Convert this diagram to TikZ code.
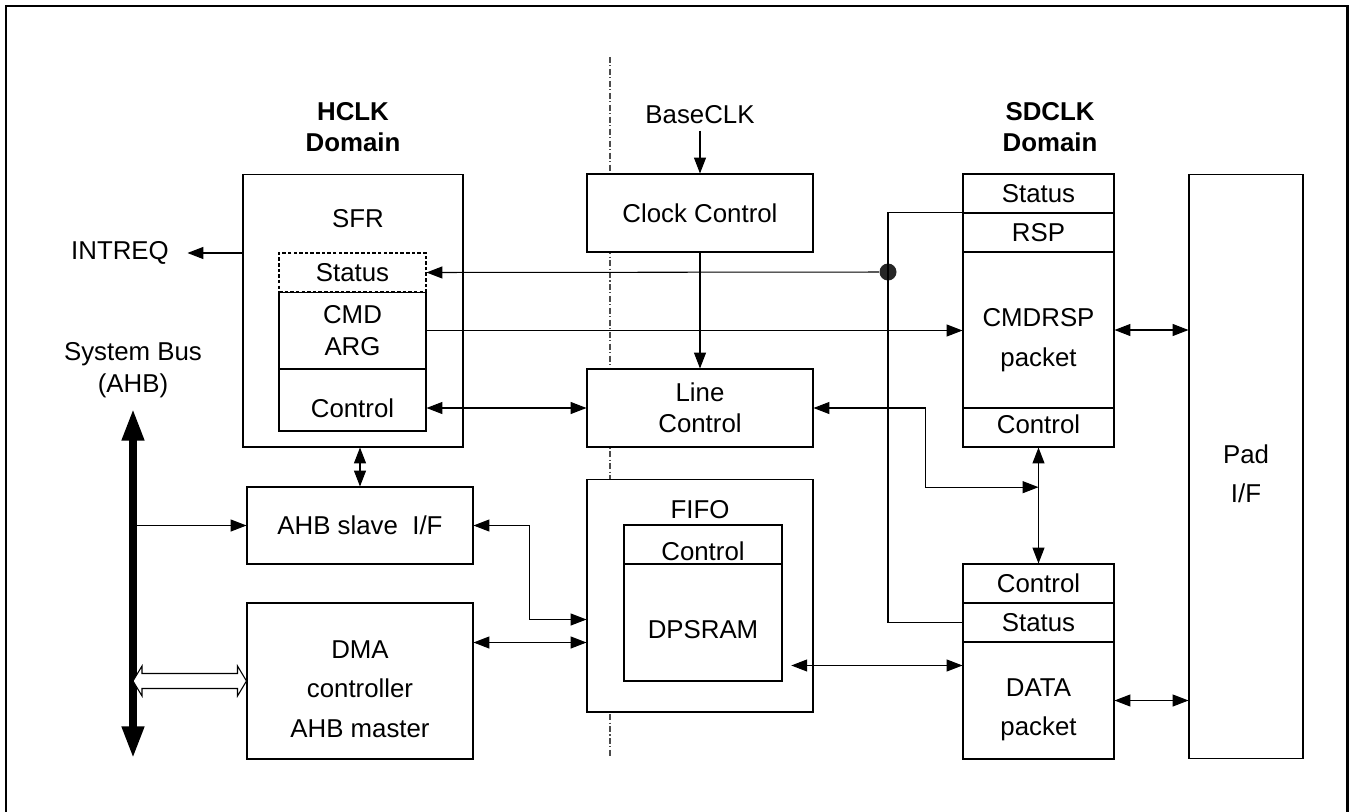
\documentclass[tikz,border=0pt]{standalone}
\usepackage{fontspec}
\setmainfont{Liberation Sans}
\usetikzlibrary{arrows.meta, calc}

\begin{document}
\begin{tikzpicture}[
  x=0.02cm, y=-0.02cm,
  font=\fontsize{14.7}{17.6}\selectfont,
  line width=0.6pt,
  block/.style={draw, fill=white, inner sep=0pt, align=center, minimum width=4.52cm},
  row/.style={draw, fill=white, inner sep=0pt, align=center, minimum width=3.02cm, minimum height=0.78cm},
  reg/.style={draw, fill=white, inner sep=0pt, align=center, minimum width=2.94cm},
  lbl/.style={align=center},
  head/.style={align=center, font=\fontsize{14.7}{17.6}\selectfont\bfseries},
  arrow/.style={-{Triangle[length=9pt,width=6.8pt]}},
  dblarrow/.style={{Triangle[length=9pt,width=6.8pt]}-{Triangle[length=9pt,width=6.8pt]}},
  bus/.style={line width=4pt, {Triangle[length=18pt,width=12pt]}-{Triangle[length=18pt,width=12pt]}},
  junc/.style={circle, fill=black!85, inner sep=0pt, minimum size=0.34cm},
  frame/.style={line width=1.7pt},
  domainline/.style={dash pattern=on 3.4pt off 1.4pt on 0.6pt off 1.4pt, black!70}
]
\useasboundingbox (0,0) rectangle (1350,812);
\draw[frame] (6,812) -- (6,6) -- (1347,6) -- (1347,812);

% --- clock domain border ---
\draw[domainline] (610,57) -- (610,757);

% --- HCLK side ---
\node[head] (hclk) at (353,127) {HCLK\\Domain};
\node[block, minimum width=4.4cm, minimum height=5.46cm] (sfr) at (353,310.5) {};
\node (sfrlbl) at (358,219) {SFR};
\node[reg, minimum height=1.54cm] (sfrcmd) at (352.5,330.5) {CMD\\[1pt]ARG};
\node[reg, minimum height=1.24cm,
  label={[lbl, yshift=-0.16cm]center:Control}] (sfrctl) at (352.5,400) {};
\node[reg, dash pattern=on 2pt off 1.2pt, minimum height=0.78cm] (sfrstat) at (352.5,272.5) {Status};
\node[lbl] (intreq) at (120,253) {INTREQ};
\node[lbl] (sysbus) at (133,370) {System Bus\\[1pt](AHB)};
\coordinate (bustop) at (133,409);
\coordinate (busbot) at (133,758);
\node[block, minimum height=1.54cm] (ahbs) at (360,525.5) {AHB slave~~I/F};
\node[block, minimum height=3.12cm,
  label={[lbl, yshift=-0.16cm]center:DMA\\[5pt]controller\\[5pt]AHB master}] (dma) at (360,681) {};

% --- centre column ---
\node[lbl] (baseclk) at (700,115) {BaseCLK};
\node[block, minimum height=1.56cm] (clk) at (700,213) {Clock Control};
\node[block, minimum height=1.56cm] (linectl) at (700,408) {Line\\Control};
\node[block, minimum height=4.66cm] (fifo) at (700,595.5) {};
\node (fifolbl) at (700,510) {FIFO};
\node[row, minimum width=3.16cm,
  label={[lbl, yshift=-0.14cm]center:Control}] (fifoctl) at (703,544.5) {};
\node[row, minimum width=3.16cm, minimum height=2.34cm,
  label={[lbl, yshift=-0.14cm]center:DPSRAM}] (dpsram) at (703,622.5) {};

% --- SDCLK side ---
\node[head] (sdclk) at (1050,127) {SDCLK\\Domain};
\node[row] (cstat) at (1038.5,193.5) {Status};
\node[row] (crsp) at (1038.5,232.5) {RSP};
\node[row, minimum height=3.12cm,
  label={[lbl, yshift=-0.2cm]center:CMDRSP\\[5.5pt]packet}] (cpkt) at (1038.5,330) {};
\node[row, label={[lbl, yshift=0.07cm]center:Control}] (cctl) at (1038.5,427.5) {};
\node[row] (dctl) at (1038.5,583.5) {Control};
\node[row] (dstat) at (1038.5,622.5) {Status};
\node[row, minimum height=2.34cm,
  label={[lbl, yshift=-0.18cm]center:DATA\\[4.5pt]packet}] (dpkt) at (1038.5,700.5) {};
\node[block, minimum width=2.28cm, minimum height=11.7cm,
  label={[lbl, yshift=-0.14cm]center:Pad\\[4.5pt]I/F}] (pad) at (1246,466.5) {};
\node[junc] (jn) at (888,272) {};

% --- helper points ---
\coordinate (tap) at ($(cctl.south)!0.342!(dctl.north)$);
\coordinate (fifoinA) at ($(fifo.west)+(0,24)$);
\coordinate (fifoinB) at ($(fifo.west)+(0,47)$);
\coordinate (dpktin) at ($(dpkt.north west)+(0,24)$);
\coordinate (busdma) at (bustop |- dma.west);

% --- system bus ---
\draw[bus] (bustop) -- (busbot);
\draw[arrow] (bustop |- ahbs.west) -- (ahbs.west);
\draw[fill=white] (busdma) -- ($(busdma)+(9,-15)$) -- ($(busdma)+(9,-7.5)$)
  -- ($(dma.west)+(-9,-7.5)$) -- ($(dma.west)+(-9,-15)$) -- (dma.west)
  -- ($(dma.west)+(-9,15)$) -- ($(dma.west)+(-9,7.5)$)
  -- ($(busdma)+(9,7.5)$) -- ($(busdma)+(9,15)$) -- cycle;

% --- connections ---
\draw[arrow] (sfr.west |- intreq.east) -- (intreq.east) [shorten >=7pt];
\draw[dblarrow] (ahbs.north |- sfr.south) -- (ahbs.north);
\draw[arrow] (baseclk.south) -- (clk.north);
\draw[arrow] (clk.south) -- (linectl.north);
\draw[arrow] (jn) -- (sfrstat.east);
\draw (crsp.north west) -| (jn.center) |- (dstat.west);
\draw[arrow] (sfrcmd.east) -- (sfrcmd.east -| cpkt.west);
\draw[dblarrow] (linectl.west -| sfrctl.east) -- (linectl.west);
\draw[dblarrow] (cpkt.east) -- (cpkt.east -| pad.west);
\draw[dblarrow] (cctl.south) -- (dctl.north);
\draw[dblarrow] (linectl.east) -| ($(tap)+(-113,0)$) -- (tap);
\draw[dblarrow] (ahbs.east) -- ++(56,0) |- (fifoinA);
\draw[dblarrow] (dma.east |- fifoinB) -- (fifoinB);
\draw[dblarrow, shorten <=5pt] (dpsram.east |- dpktin) -- (dpktin);
\draw[dblarrow] (dpkt.east) -- (dpkt.east -| pad.west);

\end{tikzpicture}
\end{document}
